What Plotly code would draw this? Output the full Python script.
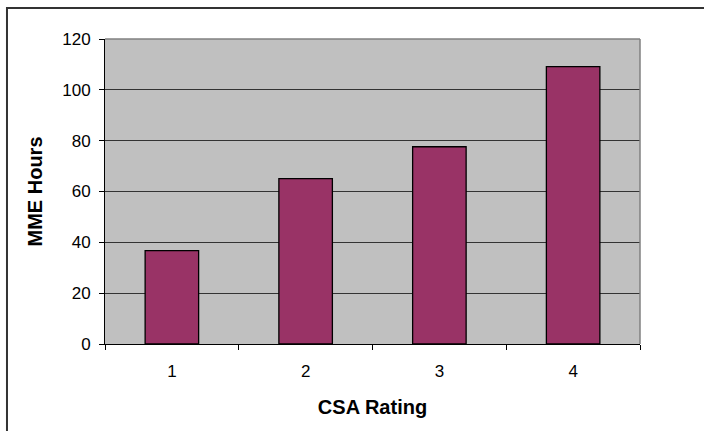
import plotly.graph_objects as go

# CSA rating categories and the MME hours for each
ratings = ["1", "2", "3", "4"]
mme_hours = [36.7, 65.1, 77.6, 109.1]
y_ticks = [0, 20, 40, 60, 80, 100, 120]

fig = go.Figure(
    go.Bar(
        x=ratings,
        y=mme_hours,
        marker=dict(color="#993366", line=dict(color="#000000", width=1.3)),
        width=0.4,
    )
)

font_family = "Liberation Sans, Arial, sans-serif"

fig.update_layout(
    width=704,
    height=431,
    margin=dict(l=105, r=64, t=39, b=87),
    paper_bgcolor="#FFFFFF",
    plot_bgcolor="#C0C0C0",
    showlegend=False,
    font=dict(family=font_family, size=17, color="#000000"),
    xaxis=dict(
        type="category",
        tickson="boundaries",
        ticks="outside",
        ticklen=5,
        tickcolor="#000000",
        showline=True,
        linecolor="#000000",
        linewidth=1,
        showgrid=False,
        tickfont=dict(size=17),
        ticklabelstandoff=12,
        title=dict(text="<b>CSA Rating</b>", font=dict(size=20), standoff=19),
    ),
    yaxis=dict(
        range=[0, 120],
        tickvals=y_ticks,
        ticks="outside",
        ticklen=5,
        tickcolor="#000000",
        showline=True,
        linecolor="#000000",
        linewidth=1,
        showgrid=True,
        gridcolor="#333333",
        gridwidth=1,
        zeroline=False,
        tickfont=dict(size=17),
        ticklabelstandoff=5,
        title=dict(text="<b>MME Hours</b>", font=dict(size=20), standoff=14),
    ),
    shapes=[
        # grey top and right edges of the plotting area
        dict(type="line", xref="paper", yref="paper", x0=0, x1=1, y0=1, y1=1,
             line=dict(color="#808080", width=1.5), layer="above"),
        dict(type="line", xref="paper", yref="paper", x0=1, x1=1, y0=0, y1=1,
             line=dict(color="#808080", width=1.5), layer="above"),
        # outer chart frame
        dict(type="rect", xref="paper", yref="paper",
             x0=-0.1832, x1=1.3, y0=-0.5, y1=1.1016,
             line=dict(color="#333333", width=2), layer="above"),
    ],
)

fig.write_html("out.html")
